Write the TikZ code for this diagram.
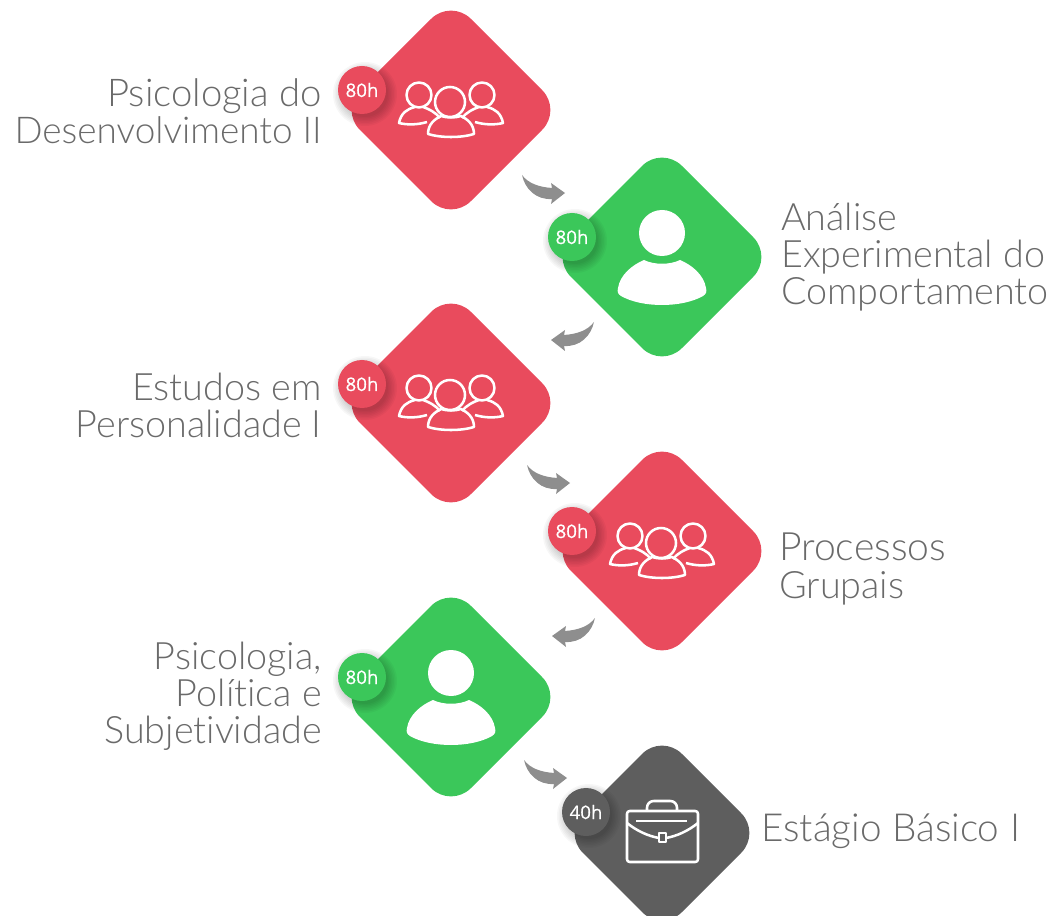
\documentclass[tikz,border=0pt]{standalone}
\usepackage{fontspec}
\setmainfont[Ligatures=NoCommon]{Lato Light}
\newfontfamily\badgefont[FakeBold=0.6]{Open Sans}
\definecolor{cred}{HTML}{E94B5D}
\definecolor{cgreen}{HTML}{3BC75A}
\definecolor{cdark}{HTML}{5E5E5E}
\definecolor{cgrey}{HTML}{8E8E8E}
\definecolor{ctext}{HTML}{6A6A6A}
\newcommand{\fs}[1]{\fontsize{#1}{27.8}\selectfont}
\tikzset{
  labeltext/.style={text=ctext,font=\fs{28.3},inner sep=0pt},
  badge/.style={circle,fill=#1,text=white,minimum size=36pt,inner sep=0pt,font=\badgefont\fontsize{14}{14}\selectfont},
  iconline/.style={draw=white,line width=1.9pt,fill=none,line join=round}
}
\newcommand{\diamondshape}[4]{% x y halfdiag colour
  \fill[#4,rounded corners=21pt] (#1-#3,#2) -- (#1,#2-#3) -- (#1+#3,#2) -- (#1,#2+#3) -- cycle;}
\newcommand{\badgeat}[5]{% name x y colour text
  \foreach \k in {0,1,2,3,4,5,6}{
    \fill[black,opacity=0.03] (#2+3,#3+4) circle ({23+\k*1.5});}
  \node[badge=#4] (#1) at (#2,#3) {#5};}
\newcommand{\grouplogo}[2]{%
  \begin{scope}[shift={(#1,#2)},iconline]
    \draw (-32,-15) circle (12.5);
    \draw (31,-15) circle (12.5);
    \draw (-24,12) .. controls (-34,15) and (-44,15) .. (-52,13) .. controls (-50,3) and (-44,-1) .. (-36,-3);
    \draw (-28,-3) .. controls (-22,-1) and (-16,2) .. (-11,8);
    \draw (24,12) .. controls (34,15) and (44,15) .. (52,13) .. controls (50,3) and (44,-1) .. (36,-3);
    \draw (28,-3) .. controls (22,-1) and (16,2) .. (11,8);
    \draw (-1,-8) circle (15);
    \draw (-23,24) .. controls (-23,14) and (-16,9) .. (-10,6) .. controls (-4,8) and (4,8) .. (10,6) .. controls (16,9) and (23,14) .. (23,24) .. controls (10,28) and (-10,28) .. (-23,24) -- cycle;
  \end{scope}}
\newcommand{\personlogo}[2]{%
  \begin{scope}[shift={(#1,#2)}]
    \fill[white] (0,-24) circle (23);
    \fill[white] (-44,31) .. controls (-42,18) and (-30,8) .. (-18,3) .. controls (-8,8) and (8,8) .. (18,3) .. controls (30,8) and (42,18) .. (44,31) .. controls (45,35) and (44,37) .. (41,39) .. controls (20,51) and (-20,51) .. (-41,39) .. controls (-44,37) and (-45,35) .. (-44,31) -- cycle;
  \end{scope}}
\newcommand{\curvedarrow}[3]{% tail x, tail y, direction
  \begin{scope}[shift={(#1,#2)},xscale=#3]
    \fill[cgrey] (0,0) .. controls (6,8) and (16,12) .. (30,13) -- (29,8) -- (43,18) -- (29,29) -- (30,24) .. controls (14,25) and (3,14) .. (0,0) -- cycle;
  \end{scope}}
\begin{document}
\begin{tikzpicture}[x=0.75pt,y=-0.75pt]
\useasboundingbox (0,0) rectangle (1054,916);
\clip (0,0) rectangle (1054,916);
\diamondshape{451}{110}{111}{cred}
\diamondshape{662}{257}{111}{cgreen}
\diamondshape{451}{403}{111}{cred}
\diamondshape{662}{551}{111}{cred}
\diamondshape{451}{697}{111}{cgreen}
\diamondshape{662}{833}{99}{cdark}
\grouplogo{451}{110}
\personlogo{662}{257}
\grouplogo{451}{403}
\grouplogo{662}{551}
\personlogo{451}{697}
\begin{scope}[iconline]
  \draw[rounded corners=2pt] (627,811) rectangle (698,862);
  \draw[rounded corners=5pt] (647,811) -- (647,801) -- (677,801) -- (677,811);
  \draw (636,821) -- (687,821);
  \draw (627,823) .. controls (637,831) and (648,836) .. (659,838);
  \draw (698,823) .. controls (688,831) and (677,836) .. (666,838);
  \draw (659,833) rectangle (666,842);
\end{scope}
\badgeat{b1}{362}{90}{cred}{80h}
\badgeat{b2}{572}{237}{cgreen}{80h}
\badgeat{b3}{362}{384}{cred}{80h}
\badgeat{b4}{572}{531}{cred}{80h}
\badgeat{b5}{362}{677}{cgreen}{80h}
\badgeat{b6}{586}{812}{cdark}{40h}
\curvedarrow{522}{175}{1}
\curvedarrow{594}{322}{-1}
\curvedarrow{527}{465}{1}
\curvedarrow{595}{618}{-1}
\curvedarrow{524}{760}{1}
\node[labeltext,align=right,anchor=east] (t1) at (322,111) {\fs{28.7}Psicologia do\\\fs{27.7}Desenvolvimento II};
\node[labeltext,align=left,anchor=west] (t2) at (781,257) {Análise\\Experimental do\\Comportamento};
\node[labeltext,align=right,anchor=east] (t3) at (322,405) {Estudos em\\Personalidade I};
\node[labeltext,align=left,anchor=west] (t4) at (779,569) {\fs{29.3}Processos\\Grupais};
\node[labeltext,align=right,anchor=east] (t5) at (322,696) {Psicologia,\\Política e\\Subjetividade};
\node[labeltext,anchor=west,font=\fs{29}] (t6) at (761,831) {Estágio Básico I};
\end{tikzpicture}
\end{document}
